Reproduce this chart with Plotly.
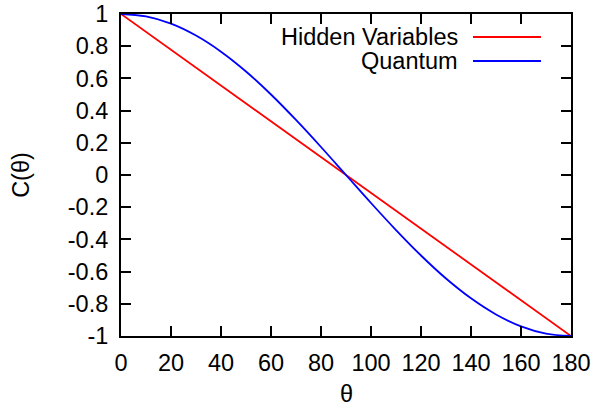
import plotly.graph_objects as go

# Data
theta_hidden = [0, 90, 180]
c_hidden = [1.0, 0.0, -1.0]

theta_quantum = [0, 10, 20, 30, 40, 50, 60, 70, 80, 90, 100, 110, 120, 130, 140, 150, 160, 170, 180]
c_quantum = [1.00, 0.985, 0.94, 0.866, 0.766, 0.643, 0.50, 0.342, 0.174, 0.00,
             -0.174, -0.342, -0.50, -0.643, -0.766, -0.866, -0.94, -0.985, -1.00]

x_ticks = [0, 20, 40, 60, 80, 100, 120, 140, 160, 180]
x_ticktext = ["0", "20", "40", "60", "80", "100", "120", "140", "160", "180"]
y_ticks = [1, 0.8, 0.6, 0.4, 0.2, 0, -0.2, -0.4, -0.6, -0.8, -1]
y_ticktext = ["1", "0.8", "0.6", "0.4", "0.2", "0", "-0.2", "-0.4", "-0.6", "-0.8", "-1"]

series_names = ["Hidden Variables", "Quantum"]
series_colors = ["#ff0000", "#0000ff"]
x_title = "θ"
y_title = "C(θ)"

FONT = "Liberation Sans, Arial, Helvetica, sans-serif"
FS = 23.5

fig = go.Figure()
fig.add_trace(go.Scatter(x=theta_hidden, y=c_hidden, mode="lines",
                         line=dict(color=series_colors[0], width=1.8),
                         name=series_names[0], showlegend=False))
fig.add_trace(go.Scatter(x=theta_quantum, y=c_quantum, mode="lines",
                         line=dict(color=series_colors[1], width=1.8, shape="spline"),
                         name=series_names[1], showlegend=False))

# Gnuplot-style legend: right-aligned text, line sample to the right
legend_y = [0.9286, 0.854]
for name, color, ly in zip(series_names, series_colors, legend_y):
    fig.add_annotation(x=0.7533, y=ly, xref="paper", yref="paper", text=name,
                       showarrow=False, xanchor="right", yanchor="middle",
                       font=dict(family=FONT, size=FS, color="black"))
    fig.add_shape(type="line", xref="paper", yref="paper", x0=0.7822, x1=0.9333,
                  y0=ly, y1=ly, line=dict(color=color, width=1.8))

# x-axis title placed as an annotation so it can sit low like the reference
fig.add_annotation(x=0.5, y=-0.18, xref="paper", yref="paper", text=x_title,
                   showarrow=False, xanchor="center", yanchor="middle",
                   font=dict(family=FONT, size=FS, color="black"))

axis_common = dict(showline=True, linecolor="black", linewidth=2, mirror="ticks",
                   ticks="inside", ticklen=10, tickwidth=1.5, tickcolor="black",
                   showgrid=False, zeroline=False, automargin=False,
                   tickfont=dict(family=FONT, size=FS, color="black"))

fig.update_xaxes(range=[0, 180], tickvals=x_ticks, ticktext=x_ticktext,
                 ticklabelstandoff=5, **axis_common)
fig.update_yaxes(range=[-1, 1], tickvals=y_ticks, ticktext=y_ticktext,
                 ticklabelstandoff=6,
                 title=dict(text=y_title, font=dict(family=FONT, size=FS, color="black"), standoff=32),
                 **axis_common)

fig.update_layout(width=596, height=406, plot_bgcolor="white", paper_bgcolor="white",
                  margin=dict(l=121, r=25, t=14, b=70), showlegend=False)

fig.write_html("out.html", config={"displayModeBar": False},
               post_script="document.body.style.margin='0';document.body.style.overflow='hidden';")
